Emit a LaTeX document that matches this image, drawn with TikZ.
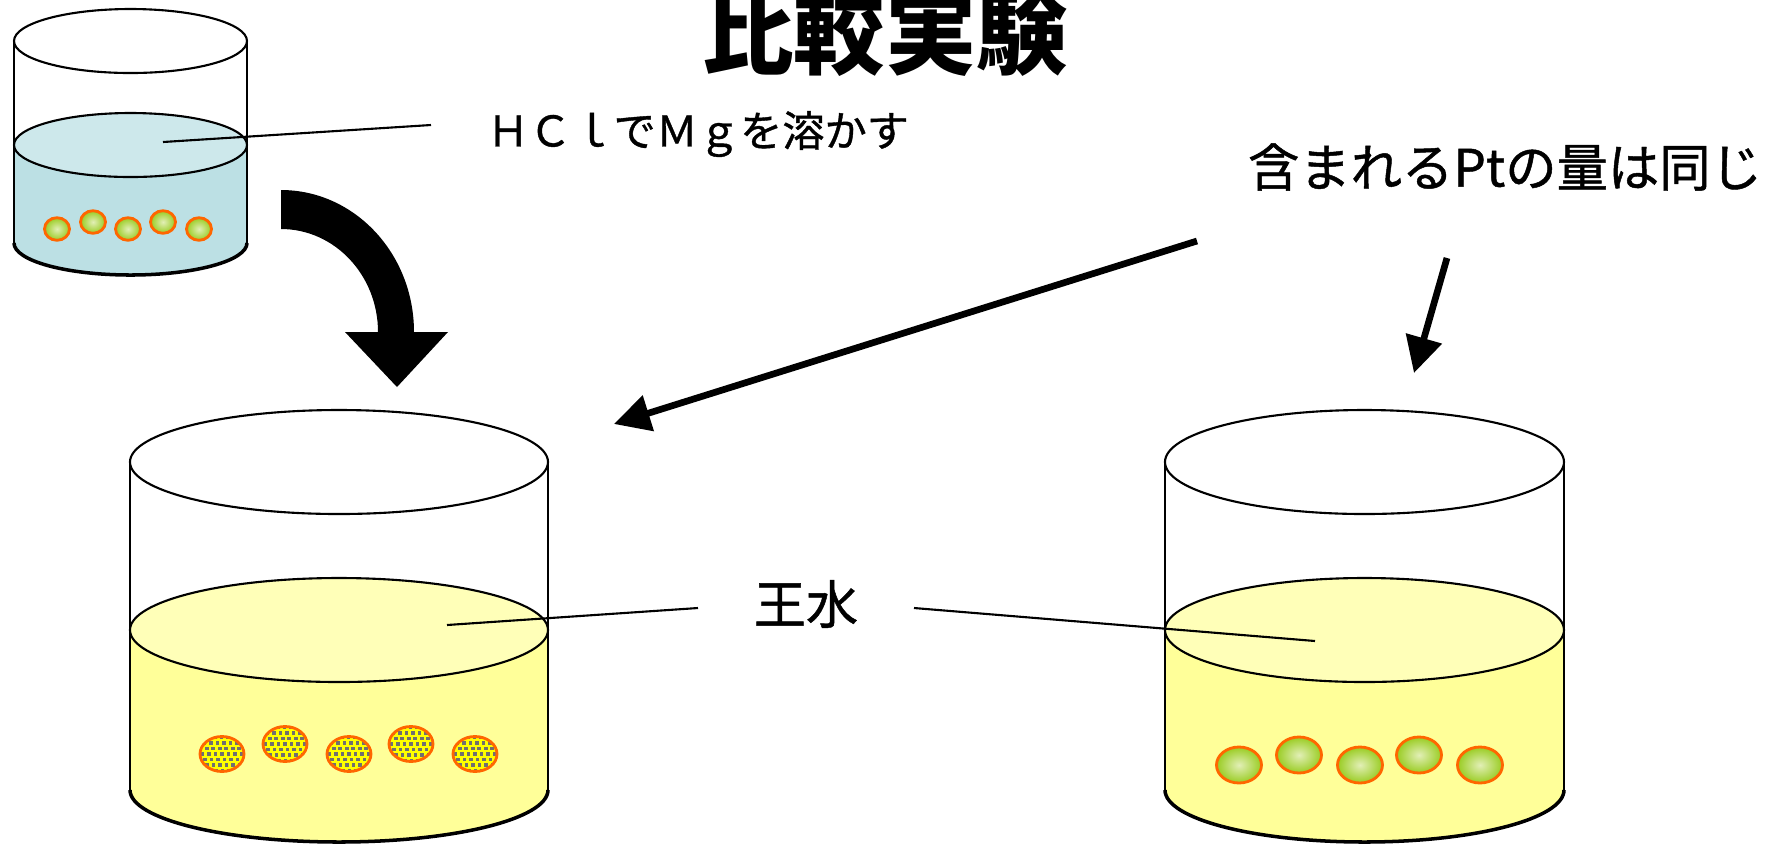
\documentclass[tikz,border=0pt]{standalone}
\usepackage{fontspec}
\newfontfamily\jp{Noto Sans CJK JP}
\newfontfamily\jpm{Noto Sans CJK JP}[FakeBold=0.9]
\usetikzlibrary{arrows.meta}

\definecolor{hclbody}{HTML}{BCE0E4}
\definecolor{hclsurf}{HTML}{CDE8EB}
\definecolor{aqbody}{HTML}{FFFF99}
\definecolor{aqsurf}{HTML}{FFFFB8}
\definecolor{ptrim}{HTML}{FF6600}
\definecolor{ptin}{HTML}{E2EFB6}
\definecolor{ptout}{HTML}{99CC22}
\definecolor{mgfill}{HTML}{FFFF00}
\definecolor{speck}{HTML}{707070}

% one beaker: cx, rx, y of rim, y of liquid surface, y of base, ry, liquid colour, surface colour
\newcommand\beaker[8]{%
  \fill[#7] (#1-#2,#4) -- (#1-#2,#5)
     arc[start angle=180,end angle=0,x radius=#2,y radius=#6]
     -- (#1+#2,#4)
     arc[start angle=0,end angle=180,x radius=#2,y radius=#6] -- cycle;
  \draw[rim,fill=#8] (#1,#4) ellipse[x radius=#2,y radius=#6];
  \draw[rim] (#1,#3) ellipse[x radius=#2,y radius=#6];
  \draw[rim] (#1-#2,#3) -- (#1-#2,#5);
  \draw[rim] (#1+#2,#3) -- (#1+#2,#5);
  \draw[rim,line width=1pt] (#1-#2,#5)
     arc[start angle=180,end angle=0,x radius=#2,y radius=#6];
}
% a green Pt grain: cx, cy, rx, ry
\newcommand\grain[4]{%
  \draw[grainstyle] (#1,#2) ellipse[x radius=#3,y radius=#4];
}
% a Pt grain still coated with Mg (speckled): cx, cy
\newcommand\mggrain[2]{%
  \begin{scope}
    \clip (#1,#2) ellipse[x radius=22,y radius=17.5];
    \fill[mgfill] (#1,#2) ellipse[x radius=22,y radius=17.5];
    \foreach \r in {-3,...,3}{
      \foreach \c in {-4,...,4}{
        \fill[speck] ({#1+6.5*\c+2.3*\r-1.8},{#2+5.6*\r-1.8}) rectangle ++(3.6,3.6);
      }
    }
  \end{scope}
  \draw[ptrim,line width=0.8pt] (#1,#2) ellipse[x radius=22,y radius=17.5];
}

\tikzset{
  rim/.style={draw=black,line width=0.6pt},
  grainstyle/.style={draw=ptrim,line width=0.8pt,inner color=ptin,outer color=ptout},
  leader/.style={draw=black,line width=0.6pt},
  pointer/.style={draw=black,line width=1.9pt,-{Triangle[length=0.36cm,width=0.36cm]}},
  label/.style={inner sep=0pt,text=black},
}

\begin{document}
\begin{tikzpicture}[x=0.01cm,y=-0.01cm]
  \useasboundingbox (0,0) rectangle (1765,844);
  \fill[white] (0,0) rectangle (1765,844);
  \clip (0,0) rectangle (1765,844);

  % small HCl beaker with Mg-loaded grains
  \beaker{130.5}{116.5}{41}{145}{243}{32}{hclbody}{hclsurf}
  \grain{57}{229}{12.5}{11.3}
  \grain{93}{222}{12.5}{11.3}
  \grain{128}{229}{12.5}{11.3}
  \grain{163}{222}{12.5}{11.3}
  \grain{199}{229}{12.5}{11.3}

  % left aqua regia beaker
  \beaker{339}{209}{462}{630}{790}{52}{aqbody}{aqsurf}
  \mggrain{222}{754}
  \mggrain{285}{744}
  \mggrain{349}{754}
  \mggrain{411}{744}
  \mggrain{475}{754}

  % right aqua regia beaker
  \beaker{1364.5}{199.5}{462}{630}{790}{52}{aqbody}{aqsurf}
  \grain{1239}{765}{22.5}{18}
  \grain{1299}{755}{22.5}{18}
  \grain{1360}{765}{22.5}{18}
  \grain{1419}{755}{22.5}{18}
  \grain{1480}{765}{22.5}{18}

  % texts
  \node[label,font=\jp\bfseries\fontsize{26pt}{30pt}\selectfont,anchor=base] (title) at (885,67) {比較実験};
  \node[label,font=\jpm\fontsize{12pt}{14pt}\selectfont] (hcl) at (698,134) {ＨＣｌでＭｇを溶かす};
  \node[label,font=\jpm\fontsize{14.6pt}{18pt}\selectfont] (same) at (1505,167) {含まれるPtの量は同じ};
  \node[label,font=\jpm\fontsize{14.8pt}{18pt}\selectfont] (aqua) at (806,604) {王水};

  % leader lines
  \coordinate (hcl-in) at (163,142);
  \coordinate (hcl-out) at (431,125);
  \coordinate (aqL-in) at (447,625);
  \coordinate (aqL-out) at (698,608);
  \coordinate (aqR-out) at (914,608);
  \coordinate (aqR-in) at (1315,641);
  \draw[leader] (hcl-in) -- (hcl-out);
  \draw[leader] (aqL-in) -- (aqL-out);
  \draw[leader] (aqR-out) -- (aqR-in);

  % pointers from the note
  \coordinate (long-from) at (1197,241);
  \coordinate (long-to) at (614,424);
  \coordinate (short-from) at (1447,258);
  \coordinate (short-to) at (1414,373);
  \draw[pointer] (long-from) -- (long-to);
  \draw[pointer] (short-from) -- (short-to);

  % bent block arrow from the HCl step to the left beaker
  \fill[black] (281,190)
     arc[start angle=-90,end angle=0,x radius=133,y radius=142]
     -- (448,332) -- (397,387) -- (345,332) -- (378,332)
     arc[start angle=0,end angle=-90,x radius=97,y radius=103]
     -- cycle;
\end{tikzpicture}
\end{document}
